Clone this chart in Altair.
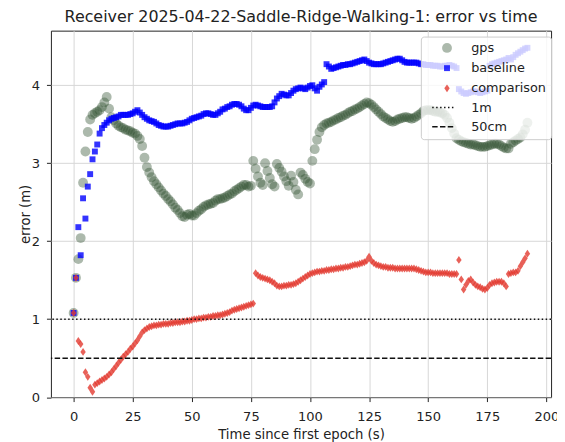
import altair as alt
import pandas as pd

TITLE = "Receiver 2025-04-22-Saddle-Ridge-Walking-1: error vs time"
SERIES = ["gps", "baseline", "comparison", "1m", "50cm"]

# error values (m), one per second since the first epoch
gps_err = [
    1.08, 1.53, 1.77, 2.04, 2.75, 3.15, 3.40, 3.56, 3.62, 3.64,
    3.66, 3.68, 3.72, 3.78, 3.85, 3.70, 3.59, 3.55, 3.51, 3.48,
    3.46, 3.45, 3.43, 3.42, 3.41, 3.39, 3.38, 3.35, 3.31, 3.22,
    3.07, 2.95, 2.88, 2.82, 2.77, 2.73, 2.69, 2.65, 2.61, 2.58,
    2.54, 2.51, 2.47, 2.43, 2.40, 2.36, 2.32, 2.31, 2.34, 2.35,
    2.33, 2.33, 2.36, 2.39, 2.41, 2.44, 2.46, 2.47, 2.48, 2.49,
    2.52, 2.54, 2.54, 2.55, 2.56, 2.58, 2.60, 2.61, 2.64, 2.66,
    2.68, 2.70, 2.72, 2.72, 2.70, 2.71, 3.03, 2.93, 2.83, 2.75,
    2.72, 3.00, 2.90, 2.81, 2.73, 2.70, 2.99, 2.94, 2.89, 2.83,
    2.77, 2.71, 2.84, 2.76, 2.66, 2.60, 2.88, 2.85, 2.80, 2.76,
    2.74, 3.03, 3.18, 3.30, 3.40, 3.46, 3.49, 3.51, 3.52, 3.53,
    3.55, 3.56, 3.58, 3.59, 3.61, 3.62, 3.64, 3.66, 3.67, 3.69,
    3.70, 3.72, 3.74, 3.76, 3.78, 3.77, 3.75, 3.72, 3.69, 3.66,
    3.63, 3.60, 3.58, 3.56, 3.54, 3.53, 3.54, 3.56, 3.57, 3.58,
    3.59, 3.59, 3.58, 3.57, 3.58, 3.60, 3.62, 3.64, 3.67, 3.68,
    3.68, 3.68, 3.67, 3.66, 3.66, 3.65, 3.64, 3.62, 3.58, 3.52,
    3.45, 3.38, 3.32, 3.30, 3.28, 3.27, 3.26, 3.25, 3.24, 3.24,
    3.23, 3.22, 3.21, 3.21, 3.21, 3.22, 3.23, 3.24, 3.25, 3.25,
    3.24, 3.22, 3.20, 3.19, 3.19, 3.25, 3.27, 3.29, 3.31, 3.33,
    3.37, 3.43, 3.52,
]
baseline_err = [
    1.08, 1.53, 2.18, 1.82, 2.55, 2.29, 2.70, 2.86, 3.05, 3.15,
    3.24, 3.38, 3.45, 3.49, 3.52, 3.55, 3.57, 3.58, 3.59, 3.60,
    3.62, 3.62, 3.62, 3.62, 3.63, 3.64, 3.66, 3.68, 3.65, 3.62,
    3.59, 3.57, 3.55, 3.54, 3.53, 3.51, 3.49, 3.48, 3.47, 3.47,
    3.47, 3.48, 3.49, 3.50, 3.51, 3.51, 3.51, 3.52, 3.53, 3.55,
    3.57, 3.58, 3.59, 3.60, 3.61, 3.63, 3.64, 3.64, 3.63, 3.62,
    3.62, 3.64, 3.66, 3.69, 3.70, 3.72, 3.73, 3.75, 3.76, 3.76,
    3.75, 3.73, 3.70, 3.68, 3.68, 3.71, 3.74, 3.75, 3.74, 3.73,
    3.72, 3.72, 3.72, 3.72, 3.73, 3.78, 3.83, 3.86, 3.89, 3.88,
    3.87, 3.87, 3.90, 3.93, 3.95, 3.96, 3.97, 3.96, 3.95, 3.97,
    3.99, 4.00, 3.96, 3.93, 3.98, 4.01, 4.04, 4.27, 4.24, 4.21,
    4.22, 4.23, 4.24, 4.25, 4.26, 4.26, 4.27, 4.27, 4.28, 4.29,
    4.30, 4.31, 4.32, 4.33, 4.31, 4.29, 4.28, 4.27, 4.27, 4.27,
    4.27, 4.28, 4.29, 4.30, 4.31, 4.32, 4.33, 4.34, 4.34, 4.32,
    4.30, 4.29, 4.29, 4.29, 4.29, 4.29, 4.28, 4.27, 4.27, 4.26,
    4.26, 4.26, 4.25, 4.25, 4.25, 4.24, 4.24, 4.25, 4.25, 4.26,
    4.25, 4.24, 4.22, 3.95, 3.92, 3.90, 3.89, 3.90, 3.91, 3.92,
    3.92, 3.91, 3.90, 3.91, 3.92, 3.93, 4.25, 4.27, 4.28, 4.29,
    4.30, 4.31, 4.32, 4.33, 4.35, 4.33, 4.36, 4.39, 4.41, 4.43,
    4.45, 4.47, 4.48,
]
comparison_err = [
    1.08, 1.53, 0.72, 0.68, 0.58, 0.32, 0.26, 0.12, 0.07, 0.16,
    0.18, 0.20, 0.22, 0.24, 0.26, 0.29, 0.32, 0.36, 0.40, 0.44,
    0.48, 0.52, 0.55, 0.58, 0.62, 0.65, 0.69, 0.73, 0.78, 0.83,
    0.86, 0.88, 0.90, 0.91, 0.92, 0.92, 0.93, 0.93, 0.94, 0.94,
    0.94, 0.95, 0.95, 0.96, 0.96, 0.96, 0.97, 0.97, 0.98, 0.98,
    0.99, 1.00, 1.00, 1.01, 1.01, 1.02, 1.02, 1.03, 1.03, 1.04,
    1.04, 1.05, 1.05, 1.06, 1.07, 1.08, 1.09, 1.11, 1.12, 1.13,
    1.14, 1.15, 1.16, 1.17, 1.18, 1.19, 1.20, 1.59, 1.56, 1.54,
    1.53, 1.52, 1.51, 1.50, 1.48, 1.46, 1.43, 1.42, 1.42, 1.43,
    1.43, 1.44, 1.44, 1.45, 1.46, 1.48, 1.50, 1.52, 1.54, 1.56,
    1.58, 1.59, 1.60, 1.61, 1.61, 1.62, 1.62, 1.63, 1.63, 1.64,
    1.64, 1.65, 1.65, 1.66, 1.66, 1.67, 1.67, 1.68, 1.69, 1.70,
    1.70, 1.71, 1.72, 1.73, 1.75, 1.80, 1.75, 1.72, 1.70, 1.69,
    1.68, 1.67, 1.67, 1.66, 1.66, 1.66, 1.65, 1.65, 1.65, 1.65,
    1.65, 1.65, 1.65, 1.65, 1.65, 1.64, 1.63, 1.62, 1.61, 1.60,
    1.60, 1.60, 1.59, 1.59, 1.59, 1.59, 1.59, 1.59, 1.59, 1.58,
    1.58, 1.58, 1.58, 1.76, 1.51, 1.38, 1.44, 1.49, 1.51, 1.47,
    1.44, 1.42, 1.41, 1.39, 1.38, 1.40, 1.44, 1.46, 1.47, 1.48,
    1.48, 1.48, 1.46, 1.42, 1.58, 1.59, 1.60, 1.60, 1.62, 1.68,
    1.73, 1.78, 1.84,
]
ref_names = ["1m", "50cm"]
ref_values = [1.0, 0.5]
x_ticks = [0, 25, 50, 75, 100, 125, 150, 175, 200]
y_ticks = [0, 1, 2, 3, 4]

rows = []
for name, vals in [("gps", gps_err), ("baseline", baseline_err), ("comparison", comparison_err)]:
    for i, v in enumerate(vals):
        rows.append({"t": i, "err": v, "series": name})
pts_df = pd.DataFrame(rows)
ref_df = pd.DataFrame({"series": ref_names, "err": ref_values})

FONT = "DejaVu Sans"
INK = "#222222"

SQUARE = "M-0.6,-0.6H0.6V0.6H-0.6Z"
DIAMOND = "M0,-0.8L0.55,0L0,0.8L-0.55,0Z"
LINE = "M-3,0H1.66"

x_scale = alt.Scale(domain=[-9.6, 202], nice=False, zero=False)
y_scale = alt.Scale(domain=[0, 4.7], nice=False, zero=False)
fill_scale = alt.Scale(domain=SERIES, range=["rgba(47,79,47,0.4)", "rgba(0,0,255,0.8)",
                                            "rgba(226,58,48,0.8)", "transparent", "transparent"])
stroke_scale = alt.Scale(domain=SERIES, range=["transparent", "transparent", "transparent", "#111111", "#111111"])
shape_scale = alt.Scale(domain=SERIES, range=["circle", SQUARE, DIAMOND, LINE, LINE])
dash_scale = alt.Scale(domain=SERIES, range=[[1, 0], [1, 0], [1, 0], [1.5, 2.5], [5.5, 2.4]])

legend = alt.Legend(
    title=None, orient="none", legendX=375, legendY=6,
    fillColor="rgba(255,255,255,0.8)", strokeColor="#cccccc", cornerRadius=3,
    padding=5, labelFont=FONT, labelFontSize=13, labelColor=INK,
    symbolSize=100, symbolStrokeWidth=1.5, symbolOffset=15, labelOffset=18,
    rowPadding=5.5,
)

x_axis = alt.Axis(values=x_ticks, title="Time since first epoch (s)", format="d",
                  grid=True, gridColor="#d6d6d6", domain=False, tickColor=INK, tickSize=4.5,
                  labelFont=FONT, labelFontSize=13.2, labelColor=INK, labelPadding=9, labelFlush=False,
                  titleFont=FONT, titleFontSize=13.4, titleFontWeight="normal", titleColor=INK, titlePadding=5)
y_axis = alt.Axis(values=y_ticks, title="error (m)", format="d",
                  grid=True, gridColor="#d6d6d6", domain=False, tickColor=INK, tickSize=4.5,
                  labelFont=FONT, labelFontSize=13.2, labelColor=INK, labelPadding=7,
                  titleFont=FONT, titleFontSize=13.4, titleFontWeight="normal", titleColor=INK, titlePadding=-1)

points = alt.Chart(pts_df).mark_point(filled=True, size=100, opacity=1).encode(
    x=alt.X("t:Q", scale=x_scale, axis=x_axis),
    y=alt.Y("err:Q", scale=y_scale, axis=y_axis),
    fill=alt.Fill("series:N", scale=fill_scale, legend=legend),
    shape=alt.Shape("series:N", scale=shape_scale, legend=legend),
)

rules = alt.Chart(ref_df).mark_rule(strokeWidth=1.5).encode(
    y=alt.Y("err:Q", scale=y_scale),
    stroke=alt.Stroke("series:N", scale=stroke_scale, legend=legend),
    strokeDash=alt.StrokeDash("series:N", scale=dash_scale, legend=legend),
)

chart = alt.layer(points, rules).properties(
    width=507, height=371.5,
    title=alt.TitleParams(TITLE, font=FONT, fontSize=16.1, fontWeight="normal", color=INK,
                          anchor="middle", offset=6),
    autosize=alt.AutoSizeParams(type="none"),
    padding={"left": 43.5, "top": 20, "right": 6, "bottom": 42},
).configure_view(stroke=INK, strokeWidth=1)

chart.save("out.html", embed_options={"renderer": "svg", "actions": False})
